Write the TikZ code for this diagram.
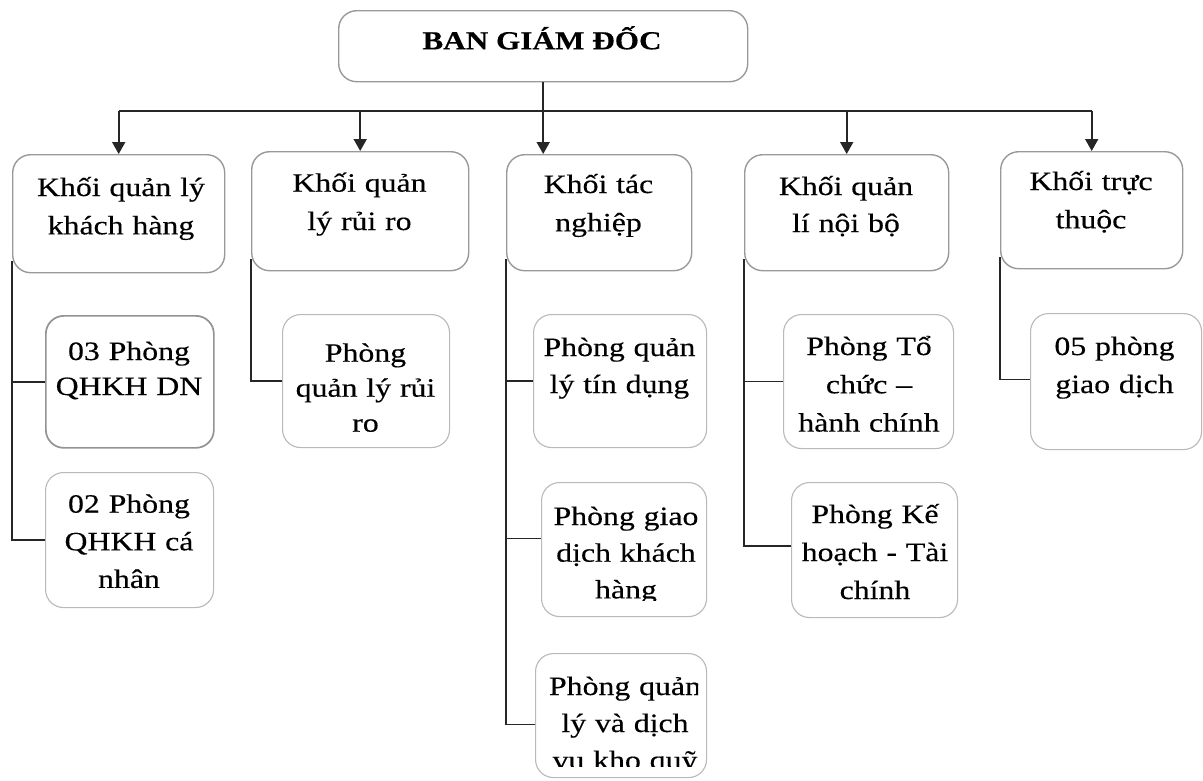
\documentclass[tikz,border=0pt]{standalone}
\usepackage{fontspec}
\setmainfont[FakeStretch=1.2,FakeBold=0.35]{Liberation Serif}
\usetikzlibrary{arrows.meta,calc}
\newcommand\orgbox[6]{%
  \node[#2, minimum width={#5-#3}, minimum height={#6-#4}, anchor=north west] (#1) at (#3,#4) {};}
\begin{document}
\begin{tikzpicture}[x=1pt,y=-1pt,
  lvbox/.style={draw=gray!80, line width=1.4pt, rounded corners=18pt, inner sep=0pt, fill=white},
  subbox/.style={draw=gray!55, line width=1.1pt, rounded corners=18pt, inner sep=0pt, fill=white},
  darkbox/.style={draw=gray!85, line width=1.7pt, rounded corners=18pt, inner sep=0pt, fill=white},
  txt/.style={align=center, text width=230pt, inner sep=0pt, anchor=base, font=\fontsize{26.5}{37}\selectfont},
  conn/.style={draw=black!85, line width=1.8pt},
  arr/.style={conn, -{Triangle[width=13pt,length=12pt]}}]
\useasboundingbox (0,0) rectangle (1203,780);

% boxes
\orgbox{top}{lvbox}{338}{10}{747}{81}
\orgbox{k1}{lvbox}{12}{154}{224}{272}
\orgbox{k2}{lvbox}{251}{151}{468}{270}
\orgbox{k3}{lvbox}{506}{154}{691}{270}
\orgbox{k4}{lvbox}{744}{154}{948}{270}
\orgbox{k5}{lvbox}{1000}{151}{1182}{268}
\orgbox{s11}{darkbox}{45}{315}{213}{447}
\orgbox{s12}{subbox}{45}{472}{213}{607}
\orgbox{s21}{subbox}{282}{314}{449}{447}
\orgbox{s31}{subbox}{533}{314}{706}{447}
\orgbox{s32}{subbox}{541}{482}{706}{616}
\orgbox{s33}{subbox}{535}{653}{706}{777}
\orgbox{s41}{subbox}{783}{314}{953}{448}
\orgbox{s42}{subbox}{791}{482}{957}{617}
\orgbox{s51}{subbox}{1030}{313}{1201}{449}

% texts
\node[anchor=base, inner sep=0pt, font=\fontsize{26}{30}\selectfont\bfseries] (title) at (542,49.3) {BAN GIÁM ĐỐC};
\node[txt, font=\fontsize{26.5}{38.3}\selectfont] (t1) at (121,196) {Khối quản lý\\khách hàng};
\node[txt, font=\fontsize{26.5}{38.3}\selectfont] (t2) at (359.5,191.7) {Khối quản\\lý rủi ro};
\node[txt, font=\fontsize{26.5}{38.3}\selectfont] (t3) at (598.5,193) {Khối tác\\nghiệp};
\node[txt] (t4) at (846,195) {Khối quản\\lí nội bộ};
\node[txt, font=\fontsize{26.5}{38.3}\selectfont] (t5) at (1091,190) {Khối trực\\thuộc};
\node[txt, font=\fontsize{26.5}{35}\selectfont] (u11) at (129,360) {03 Phòng\\QHKH DN};
\node[txt, font=\fontsize{26.5}{37.6}\selectfont] (u12) at (129,512.7) {02 Phòng\\QHKH cá\\nhân};
\node[txt, font=\fontsize{26.5}{35}\selectfont] (u21) at (365.5,361.7) {Phòng\\quản lý rủi\\ro};
\node[txt] (u31) at (619.5,356) {Phòng quản\\lý tín dụng};
\begin{scope}
  \clip (545,485) rectangle (700,600.5);
  \node[txt, font=\fontsize{26.5}{36.7}\selectfont] (u32) at (626,525) {Phòng giao\\dịch khách\\hàng};
\end{scope}
\begin{scope}
  \clip (540,656) rectangle (698,766);
  \node[txt] (u33) at (625,695) {Phòng quản\\lý và dịch\\vụ kho quỹ};
\end{scope}
\node[txt, font=\fontsize{26.5}{38.3}\selectfont] (u41) at (869,355) {Phòng Tổ\\chức –\\hành chính};
\node[txt, font=\fontsize{26.5}{38}\selectfont] (u42) at (875,523) {Phòng Kế\\hoạch - Tài\\chính};
\node[txt, font=\fontsize{26.5}{38}\selectfont] (u51) at (1114.5,355) {05 phòng\\giao dịch};

% connectors from the board
\coordinate (hy) at (541,111);
\draw[arr] (top.south) -- (top.south |- k3.north);
\draw[conn] (k1.north |- hy) -- (k5.north |- hy);
\draw[arr] (k1.north |- hy) -- (k1.north);
\draw[arr] (k2.north |- hy) -- (k2.north);
\draw[arr] (k4.north |- hy) -- (k4.north);
\draw[arr] (k5.north |- hy) -- (k5.north);

% connectors to departments
\draw[conn] ([yshift=12pt]k1.south west) |- (s11.west);
\draw[conn] ([yshift=12pt]k1.south west) |- (s12.west);
\draw[conn] ([yshift=12pt]k2.south west) |- (s21.west);
\draw[conn] ([yshift=12pt]k3.south west) |- (s31.west);
\draw[conn] ([yshift=12pt]k3.south west) |- ([yshift=11pt]s32.west);
\draw[conn] ([yshift=12pt]k3.south west) |- ([yshift=-9pt]s33.west);
\draw[conn] ([yshift=12pt]k4.south west) |- (s41.west);
\draw[conn] ([yshift=12pt]k4.south west) |- ([yshift=4pt]s42.west);
\draw[conn] ([yshift=12pt]k5.south west) |- ([yshift=2pt]s51.west);
\end{tikzpicture}
\end{document}
